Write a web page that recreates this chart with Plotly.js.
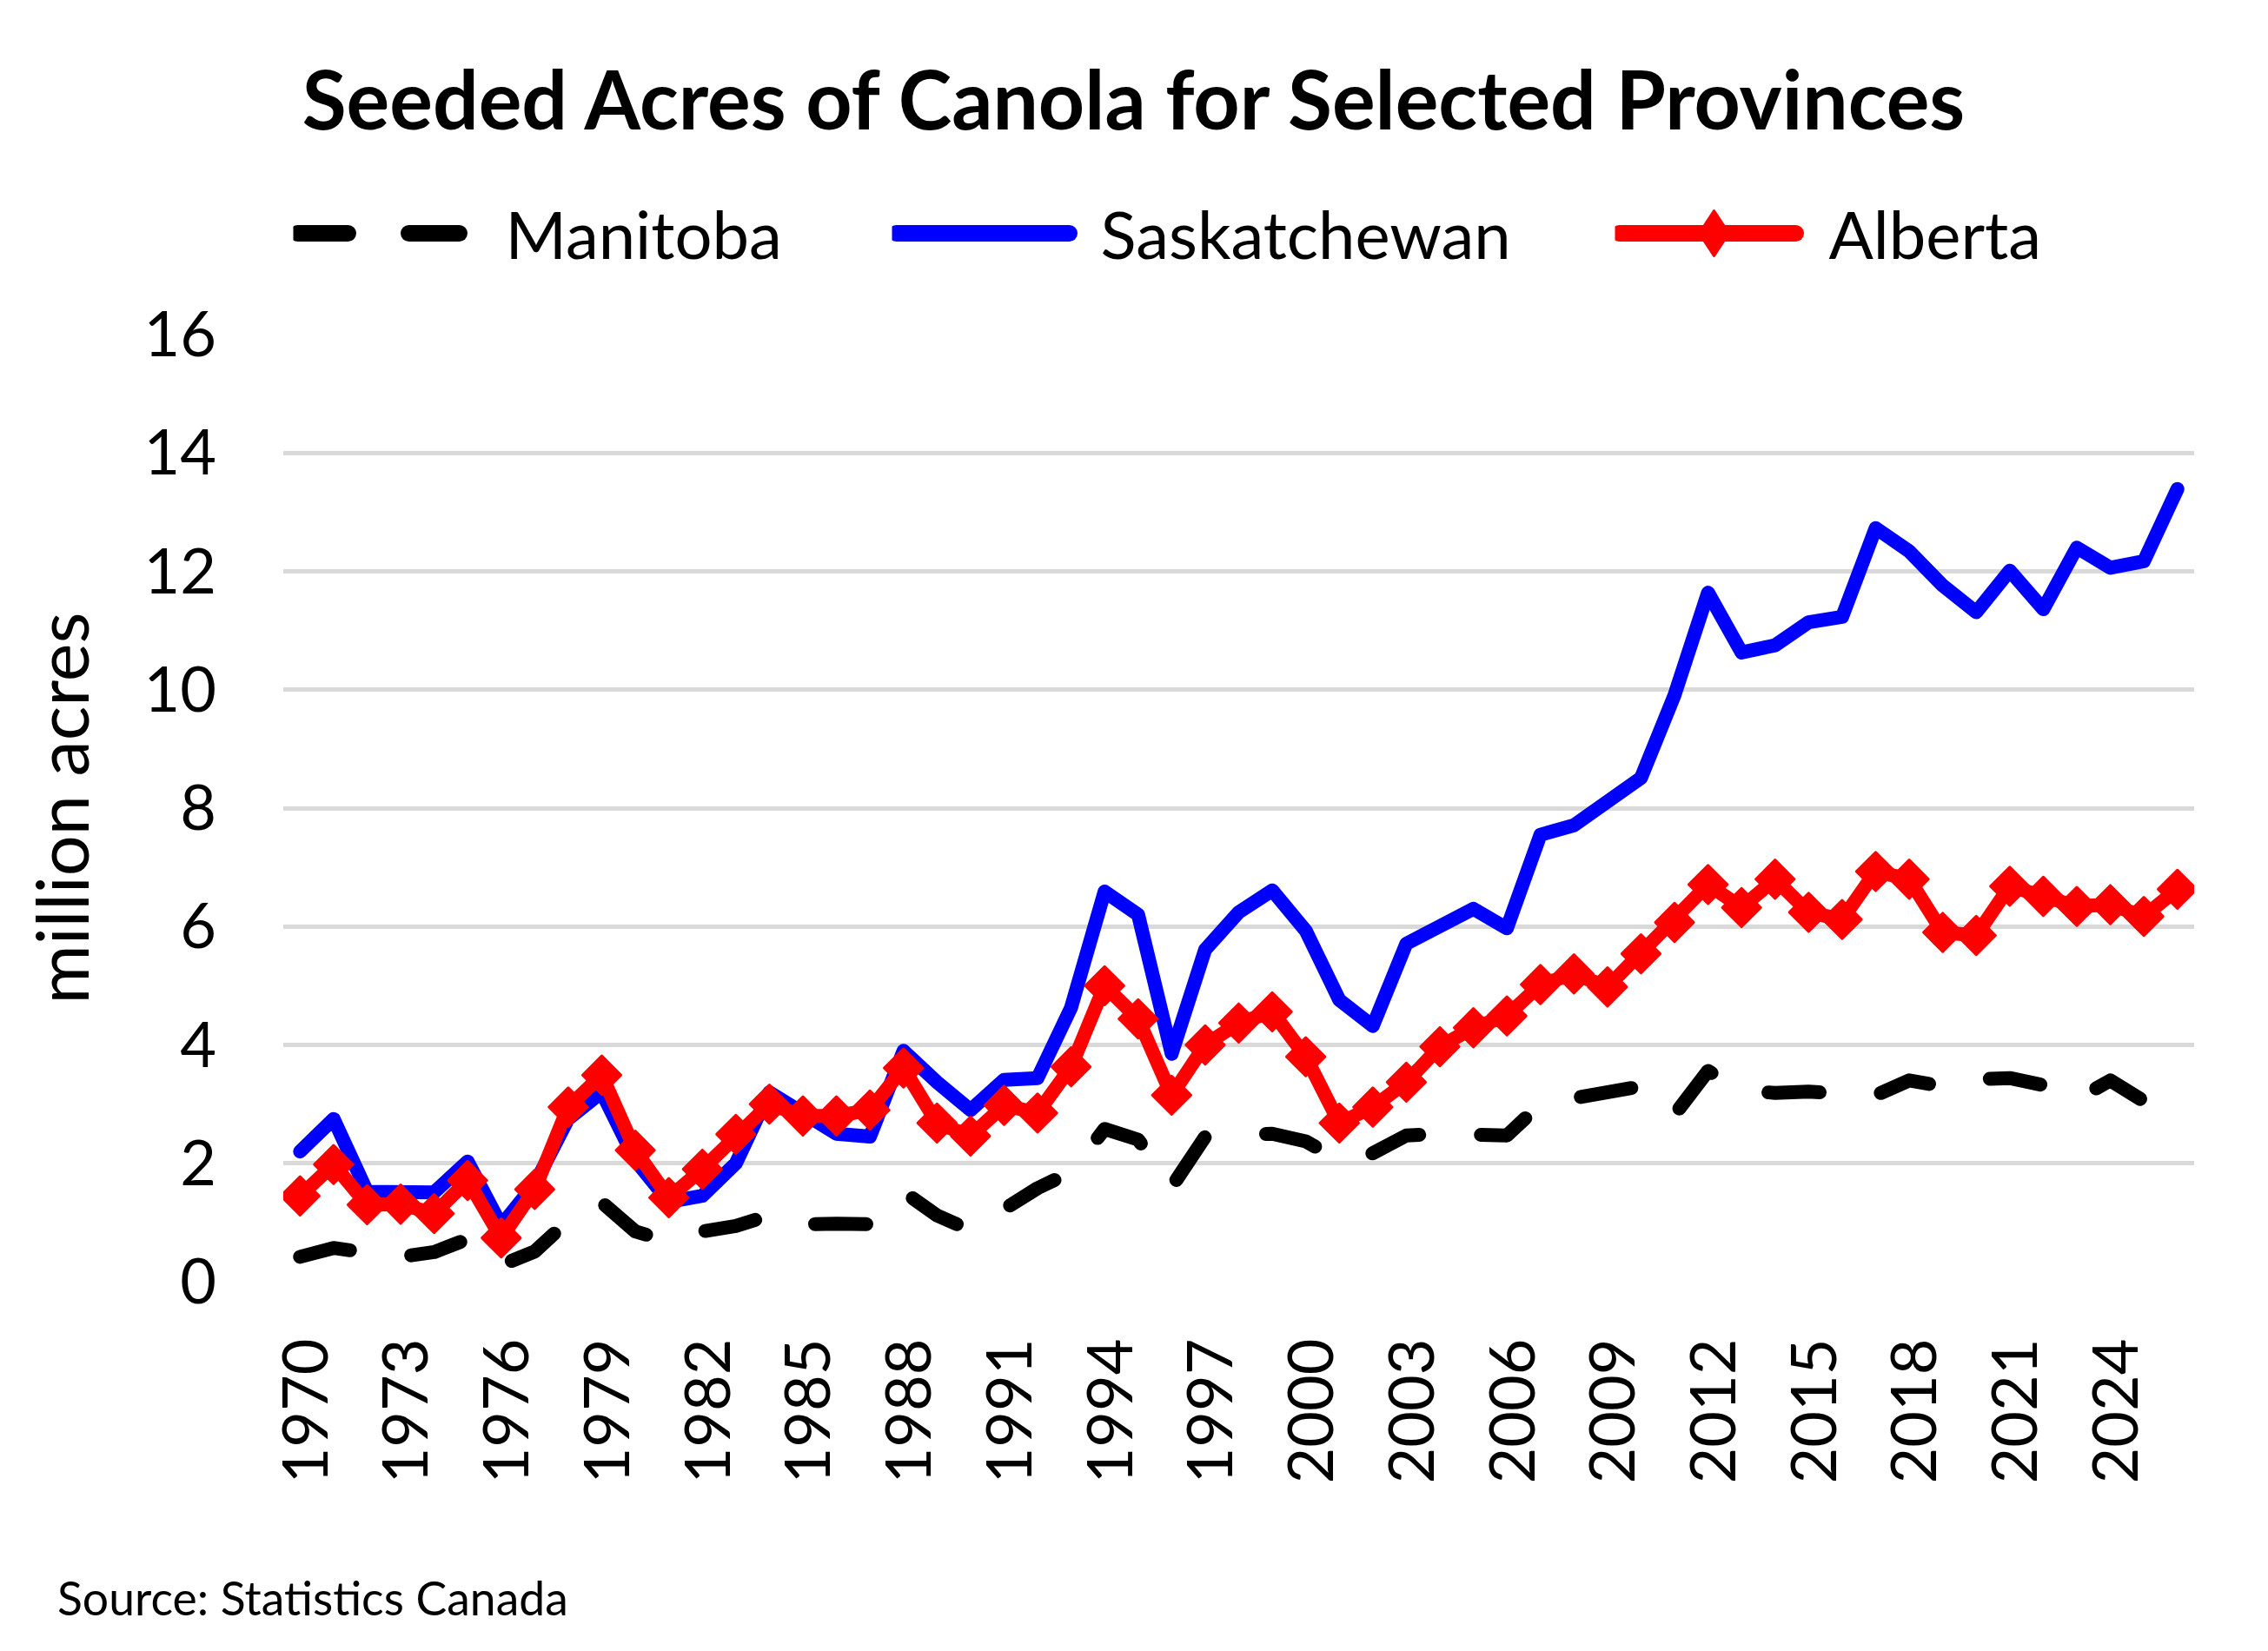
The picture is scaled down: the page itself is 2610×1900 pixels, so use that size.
<!DOCTYPE html>
<html>
<head>
<meta charset="utf-8">
<script src="https://cdn.plot.ly/plotly-3.0.1.min.js"></script>
<style>
  html, body { margin: 0; padding: 0; background: #ffffff; }
  #chart { width: 2610px; height: 1900px; }
  .scatterlayer .js-line { stroke-linejoin: round; stroke-linecap: round; }
  .scatterlayer .point { stroke-linejoin: round; }
  .legendlines path { stroke-width: 19px !important; stroke-linecap: round; stroke-linejoin: round; }
  .legend .legendlines path { stroke-dasharray: 58px 70px !important; }
  .legend2 .legendlines path { stroke-dasharray: 199px 1000px !important; }
  .legend3 .legendlines path { stroke-dasharray: 203px 1000px !important; }
  .legendpoints path { d: path("M -9 -26 L 8 0 L -9 26 L -26 0 Z"); stroke-linejoin: round; }
  .xtick text { translate: 8px 0; }
</style>
</head>
<body>
<div id="chart"></div>
<script>
const years = [1970, 1971, 1972, 1973, 1974, 1975, 1976, 1977, 1978, 1979,
  1980, 1981, 1982, 1983, 1984, 1985, 1986, 1987, 1988, 1989,
  1990, 1991, 1992, 1993, 1994, 1995, 1996, 1997, 1998, 1999,
  2000, 2001, 2002, 2003, 2004, 2005, 2006, 2007, 2008, 2009,
  2010, 2011, 2012, 2013, 2014, 2015, 2016, 2017, 2018, 2019,
  2020, 2021, 2022, 2023, 2024, 2025, 2026];

const manitoba = [0.42, 0.57, 0.49, 0.42, 0.50, 0.72, 0.28, 0.51, 1.03, 1.34,
  0.85, 0.68, 0.85, 0.94, 1.12, 0.97, 0.98, 0.97, 1.52, 1.12,
  0.87, 1.25, 1.58, 1.85, 2.58, 2.40, 1.60, 2.45, 2.50, 2.50,
  2.37, 2.05, 2.17, 2.47, 2.50, 2.49, 2.47, 3.00, 3.09, 3.21,
  3.30, 2.82, 3.56, 3.23, 3.19, 3.21, 3.18, 3.15, 3.40, 3.30,
  3.42, 3.44, 3.32, 3.08, 3.40, 3.05, 3.00];

const saskatchewan = [2.20, 2.75, 1.52, 1.51, 1.51, 2.03, 0.95, 1.65, 2.75, 3.20,
  2.05, 1.35, 1.45, 2.00, 3.20, 2.85, 2.50, 2.45, 3.90, 3.37,
  2.90, 3.41, 3.44, 4.63, 6.59, 6.20, 3.85, 5.61, 6.24, 6.61,
  5.93, 4.76, 4.32, 5.71, 6.00, 6.30, 5.97, 7.55, 7.71, 8.13,
  8.51, 9.91, 11.64, 10.63, 10.75, 11.14, 11.23, 12.73, 12.34, 11.76,
  11.31, 12.01, 11.36, 12.40, 12.06, 12.17, 13.39];

const alberta = [1.45, 1.98, 1.30, 1.31, 1.15, 1.71, 0.74, 1.56, 2.95, 3.49,
  2.22, 1.42, 1.90, 2.49, 3.00, 2.80, 2.80, 2.90, 3.61, 2.68,
  2.46, 2.98, 2.85, 3.63, 5.00, 4.44, 3.15, 4.00, 4.37, 4.56,
  3.80, 2.68, 2.95, 3.37, 3.97, 4.29, 4.49, 5.02, 5.20, 4.98,
  5.54, 6.07, 6.71, 6.32, 6.80, 6.24, 6.12, 6.93, 6.80, 5.90,
  5.85, 6.68, 6.51, 6.34, 6.37, 6.17, 6.63];

const xTickVals = [1970, 1973, 1976, 1979, 1982, 1985, 1988, 1991, 1994, 1997,
  2000, 2003, 2006, 2009, 2012, 2015, 2018, 2021, 2024];
const xTickText = ['1970', '1973', '1976', '1979', '1982', '1985', '1988', '1991', '1994', '1997',
  '2000', '2003', '2006', '2009', '2012', '2015', '2018', '2021', '2024'];
const yTickVals = [0, 2, 4, 6, 8, 10, 12, 14, 16];

const seriesNames = ['Manitoba', 'Saskatchewan', 'Alberta'];
const chartTitle = 'Seeded Acres of Canola for Selected Provinces';
const yTitle = 'million acres';
const sourceNote = 'Source: Statistics Canada';

const FONT = 'Lato, "Open Sans", sans-serif';

const traces = [
  {
    x: years, y: manitoba, name: seriesNames[0], type: 'scatter', mode: 'lines',
    line: { color: '#000000', width: 16, dash: '59px,71px' },
    legend: 'legend'
  },
  {
    x: years, y: saskatchewan, name: seriesNames[1], type: 'scatter', mode: 'lines',
    line: { color: '#0000FF', width: 16 },
    legend: 'legend2'
  },
  {
    x: years, y: alberta, name: seriesNames[2], type: 'scatter', mode: 'lines+markers',
    line: { color: '#FF0000', width: 16 },
    marker: { symbol: 'diamond', size: 34, color: '#FF0000', line: { color: '#FF0000', width: 3 } },
    legend: 'legend3'
  }
];

const legendBase = {
  orientation: 'h', yanchor: 'middle', xanchor: 'left', y: 1.1068,
  font: { family: FONT, size: 76, color: '#000000' },
  bgcolor: 'rgba(0,0,0,0)', borderwidth: 0, itemclick: false
};

const layout = {
  width: 2610, height: 1900,
  paper_bgcolor: '#ffffff', plot_bgcolor: '#ffffff',
  margin: { l: 326, r: 85, t: 384.5, b: 425, pad: 0 },
  font: { family: FONT, color: '#000000' },
  title: {
    text: chartTitle, xref: 'container', yref: 'container', x: 0.4998, xanchor: 'center',
    y: 1 - 116 / 1900, yanchor: 'middle',
    font: { family: FONT, size: 93, weight: 700, color: '#000000' }
  },
  xaxis: {
    type: 'linear', range: [1969.5, 2026.5], tickmode: 'array', tickvals: xTickVals, ticktext: xTickText,
    tickangle: -90, ticks: '', showgrid: false, zeroline: false, showline: false,
    tickfont: { family: FONT, size: 72, color: '#000000' }, ticklabelstandoff: 50, automargin: false
  },
  yaxis: {
    range: [0, 16], tickmode: 'array', tickvals: yTickVals, ticks: '',
    showgrid: true, gridcolor: '#D9D9D9', gridwidth: 5, zeroline: false, showline: false,
    tickfont: { family: FONT, size: 72, color: '#000000' }, ticklabelstandoff: 76, automargin: false,
    title: { text: yTitle, font: { family: FONT, size: 83, color: '#000000' }, standoff: 35 }
  },
  showlegend: true,
  legend: Object.assign({}, legendBase, { x: (337.5 - 326) / 2199, itemwidth: 234 }),
  legend2: Object.assign({}, legendBase, { x: (1026.5 - 326) / 2199, itemwidth: 230 }),
  legend3: Object.assign({}, legendBase, { x: (1858.5 - 326) / 2199, itemwidth: 236 }),
  annotations: [{
    text: sourceNote, xref: 'paper', yref: 'paper', x: (64 - 326) / 2199, xanchor: 'left',
    y: (1475 - 1838) / 1090.5, yanchor: 'middle', showarrow: false,
    font: { family: FONT, size: 53.5, color: '#000000' }
  }]
};

Plotly.newPlot('chart', traces, layout, { displayModeBar: false, staticPlot: true });
</script>
</body>
</html>
